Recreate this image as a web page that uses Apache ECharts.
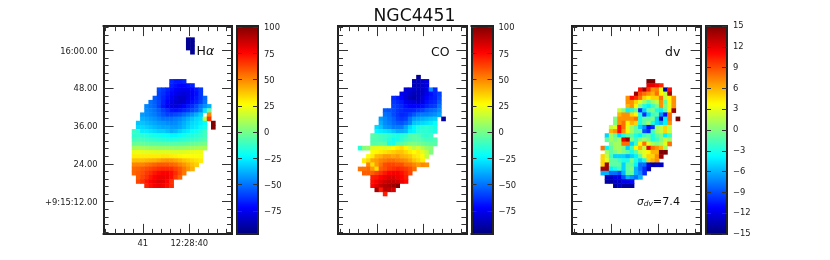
<!DOCTYPE html>
<html><head><meta charset="utf-8">
<style>html,body{margin:0;padding:0;background:#fff}#c{width:830px;height:260px}</style>
<script src="https://cdn.jsdelivr.net/npm/echarts@6/dist/echarts.min.js"></script>
</head><body><div id="c"></div>
<script>
// rows: [row, startCol, values...]  (sky map cells)
const haRows = [
[3,20,-93,-93],[4,20,-93,-93],[5,20,-93,-93],[6,21,-93],
[13,16,-65,-68,-68,-66],
[14,16,-67,-70,-72,-72,-70,-66],
[15,13,-58,-62,-66,-70,-73,-75,-76,-75,-72,-68,-62],
[16,13,-60,-63,-68,-72,-76,-78,-79,-78,-74,-70,-62],
[17,12,-55,-60,-65,-70,-75,-79,-82,-82,-78,-73,-68,-62,-52],
[18,11,-50,-54,-59,-66,-72,-77,-81,-83,-82,-76,-70,-66,-60,-50],
[19,10,-46,-50,-53,-60,-68,-74,-78,-79,-77,-73,-68,-64,-58,-50,-44,-38],
[20,10,-45,-47,-50,-54,-60,-64,-69,-70,-68,-65,-62,-58,-54,-46,-28,-6],
[21,9,-42,-44,-46,-48,-52,-56,-60,-60,-58,-56,-52,-48,-44,-38,-32],[21,25,50],
[22,9,-38,-40,-42,-44,-47,-50,-50,-50,-48,-46,-42,-38,-34,-30,-28,15,66],
[23,8,-34,-34,-36,-38,-40,-42,-43,-45,-46,-45,-42,-38,-34,-30,-28,-25,-22],[23,26,100],
[24,8,-30,-30,-32,-34,-36,-38,-40,-40,-42,-42,-40,-36,-32,-28,-26,-22,-18],[24,26,100],
[25,7,-12,-14,-26,-26,-28,-30,-32,-32,-35,-38,-36,-32,-28,-26,-22,-20,-16,-10],
[26,7,-14,-13,-15,-16,-18,-19,-20,-21,-22,-24,-24,-22,-20,-18,-17,-15,-13,-10],
[27,7,-10,-9,-10,-11,-12,-13,-14,-15,-16,-17,-16,-15,-14,-13,-12,-11,-9,-7],
[28,7,-3,-2,-3,-4,-5,-5,-5,-6,-6,-6,-6,-5,-5,-4,-3,-2,-1,0],
[29,7,9,10,9,8,7,7,6,6,6,6,5,6,6,7,8,9,10,10],
[30,7,22,23,22,21,21,20,20,20,20,19,19,19,20,21,22,23,23],
[31,7,30,30,30,30,30,30,30,31,31,30,29,28,27,27,27,26,25],
[32,7,39,39,39,40,41,42,44,46,47,46,44,41,38,36,34,32,30],
[33,7,50,51,51,53,55,57,59,59,59,57,55,51,47,43,39,36],
[34,7,56,57,59,61,63,65,67,68,68,67,63,59,53,47,42],
[35,7,57,59,61,65,68,72,75,77,77,74,68,61,53],
[36,8,59,63,67,72,76,79,80,79,74,65,57],
[37,8,63,67,72,76,80,82,81,76,67],
[38,10,70,74,78,80,78,74,68]];
const coRows = [
[12,19,-92],
[13,18,-85,-85,-82,-78],
[14,18,-86,-85,-82,-78],
[15,16,-80,-80,-82,-84,-82,-78,-45,-65],
[16,15,-75,-78,-82,-85,-85,-82,-76,-70,-65,-60],
[17,13,-65,-68,-72,-80,-85,-88,-85,-80,-72,-68,-66,-58],
[18,13,-62,-65,-68,-75,-78,-80,-82,-78,-70,-66,-64,-55],
[19,13,-60,-62,-65,-70,-72,-72,-72,-70,-66,-62,-60,-50],
[20,11,-55,-56,-58,-62,-64,-66,-66,-65,-62,-60,-55,-52,-50,-45],
[21,11,-50,-52,-58,-62,-65,-64,-60,-55,-50,-48,-48,-46,-44,-40],
[22,10,-42,-46,-50,-54,-60,-62,-60,-50,-42,-40,-38,-36,-34,-32],[22,25,-90],
[23,10,-38,-45,-48,-52,-55,-56,-52,-46,-34,-32,-30,-28,-26,-22],
[24,9,-30,-34,-42,-44,-48,-48,-48,-40,-30,-24,-18,-16,-14,-16,-18],
[25,9,-24,-26,-28,-30,-34,-38,-38,-36,-26,-24,-16,-14,-14,-16,-18],
[26,8,-6,-8,-10,-12,-14,-16,-18,-16,-14,-8,-6,-8,-12,-14,-12],
[27,8,-8,-8,-10,-12,-16,-20,-18,-14,-10,-8,-6,-6,-8,-10,-10,-8],
[28,8,-6,-6,-4,-6,-18,-18,-8,-6,-2,2,2,0,-2,-4,-6,-6],
[29,5,-15,3,6,20,22,22,20,22,26,30,33,28,20,14,18,12,6,4],
[30,8,26,28,30,32,34,36,38,38,34,30,27,30,21,14,2],
[31,7,27,30,40,42,46,46,44,46,42,40,38,32,30,27,14],
[32,6,30,34,44,46,50,52,54,54,52,50,48,44,38,34,29],
[33,7,50,33,46,54,61,63,63,61,61,55,54,50,46,50,48],
[34,5,54,54,56,46,33,58,61,65,67,69,67,65,61,55],
[35,6,58,58,58,63,67,72,76,78,78,74,69,63],
[36,8,71,72,76,80,83,83,80,76,71],
[37,8,74,78,82,86,88,88,86,80,75],
[38,8,76,82,88,91,93,95,99],
[39,9,93,72,90,88,84],
[40,11,71]];
const dvRows = [
[13,18,15,15],
[14,18,12,12,11,10],
[15,16,11,14,10,7,7.5,3,-14,11],
[16,15,14,9,8,7,6,8,4,2,14],
[17,13,7,11,10,8,5,4,5,5,8,2,4,7],
[18,13,7,7,5,3,1,-1,1,2,7,-1,4,7],
[19,13,6,7,4,0,-3,-4,-2,0,7,0,3,7],
[20,11,2,0,-4,-3,-1,-10,-5,-1,0,-3,-4,-1,4,14],
[21,11,6,7,7,5,4,-3,-10,-5,-2,-1,-7,-11,8],
[22,10,0,7,7,7,7,8,-3,-1,-1,0,-5,-13,-4,8],[22,25,15],
[23,10,0,7,8,4,6,5,-3,-1,1,-3,-5,-6,-4,7],
[24,9,2,3,11,8,3,1,-1,-5,-7,-11,-10,1,2,5,2],
[25,9,6,7,11,7,4,1,-1,-1,-9,-10,-2,1,2,5,2],
[26,8,-5,1,-1,-5,-3,-1,-1,-3,-4,-2,-1,-3,-1,0,-4,-2],
[27,8,-1,1,0,1,12,14,0,-2,0,1,0,-3,-2,0,2,1],
[28,9,0,1,1,8,8,-5,-2,4,8,3,1,0,1,3,8],
[29,7,8,-4,-1,1,1,0,-5,-2,4,6,2,12,8,7,6,1],
[30,8,1,-1,0,1,0,-1,-3,-1,2,3,4,6,6,15,15],
[31,7,5,2,-2,-5,-5,-5,-6,-5,-4,-1,3,5,5,7,14],
[32,7,5,3,-1,-1,-2,-3,-3,0,-3,-5,-3,5,6,7],
[33,7,5,14,-1,-1,-1,-5,-1,-1,-4,-8,-8,-12,-14,-13,-13],
[34,7,14,14,-4,-3,-2,-5,-1,0,-6,-8,-10,-13],
[35,7,-6,-6,-8,-8,-9,-6,-1,-1,-6,-7,-10],
[36,8,-13,-13,-12,-12,-9,-6,-7,-8,-6],
[37,8,-14,-14,-13,-13,-12,-12,-11],
[38,10,-14,-13,-14,-14,-14]];

const raMajor = [40, 41];
const raMinor = [39.2,39.4,39.6,39.8,40.2,40.4,40.6,40.8,41.2,41.4,41.6,41.8];
const decMajor = [12, 24, 36, 48, 60];
const decMinor = [2.4,4.8,7.2,9.6,14.4,16.8,19.2,21.6,26.4,28.8,31.2,33.6,38.4,40.8,43.2,45.6,50.4,52.8,55.2,57.6,62.4,64.8,67.2];
const raLabels = {40:'12:28:40', 41:'41'};
const decLabels = {12:'+9:15:12.00', 24:'24.00', 36:'36.00', 48:'48.00', 60:'16:00.00'};
const velTicks = [-75,-50,-25,0,25,50,75,100];
const dvTicks = [-15,-12,-9,-6,-3,0,3,6,9,12,15];
const jet = ['#00007f','#0000ff','#007fff','#00ffff','#7fff7f','#ffff00','#ff7f00','#ff0000','#7f0000'];

const INK = '#222', FONT = 'DejaVu Sans', LBL = 8.4;
const NC = 31, NR = 50, CELL = 4.17;
const cols = Array.from({length:NC},(_,i)=>i), rows = Array.from({length:NR},(_,i)=>i);
const toCells = rs => rs.flatMap(r => r.slice(2).map((v,i)=>[r[1]+i, r[0], v]));

const grid=[], xAxis=[], yAxis=[], series=[], visualMap=[];
const labelStyle = {fontFamily:FONT,fontSize:LBL,color:INK};
function rect(l,t,w,h){grid.push({left:l,top:t,width:w,height:h,show:false});return grid.length-1;}
function lineOnly(show){return {show,onZero:false,lineStyle:{color:INK,width:2,cap:'square'}};}
function ticks(vals,len,show){return (vals&&show!==false)?{show:true,inside:true,length:len,customValues:vals,lineStyle:{color:'#333',width:1}}:{show:false};}
function addX(g,pos,min,max,inverse,tickVals,len,line,labelFn){
  xAxis.push({gridIndex:g,type:'value',position:pos,min,max,inverse,z:6,silent:true,splitLine:{show:false},
    axisLine:lineOnly(line),axisTick:ticks(tickVals,len),
    axisLabel:labelFn?{show:true,customValues:tickVals,margin:6,formatter:labelFn,...labelStyle}:{show:false}});
}
function addY(g,pos,min,max,tickVals,len,line,labelFn,tickShow){
  yAxis.push({gridIndex:g,type:'value',position:pos,min,max,z:6,silent:true,splitLine:{show:false},
    axisLine:lineOnly(line),axisTick:ticks(tickVals,len,tickShow),
    axisLabel:labelFn?{show:true,customValues:tickVals,margin:6,formatter:labelFn,...labelStyle}:{show:false}});
}
function hiddenX(g){xAxis.push({gridIndex:g,type:'value',min:0,max:1,show:false});}
const FW=128.4, FH=207.8, FT=26.1;
const RA_L=41.841, RA_R=39.084, DEC_B=1.78, DEC_T=67.7;
const minusFix = v=>String(v).replace('-','\u2212');
function panel(x0, frameL, cells, withLabels, cbL, cbW, vmin, vmax, cbTicks, cbShift){
  const hg = rect(x0, 25.1, NC*CELL, NR*CELL);
  xAxis.push({gridIndex:hg,type:'category',data:cols,show:false});
  yAxis.push({gridIndex:hg,type:'category',data:rows,inverse:true,show:false});
  series.push({type:'heatmap',xAxisIndex:xAxis.length-1,yAxisIndex:yAxis.length-1,data:toCells(cells),progressive:0,animation:false,silent:true,z:2});
  const si = series.length-1;
  visualMap.push({type:'continuous',seriesIndex:si,min:vmin,max:vmax,dimension:2,left:cbL,top:FT,itemWidth:cbW,itemHeight:FH,padding:0,
    calculable:false,realtime:false,text:null,showLabel:false,hoverLink:false,inRange:{color:jet},z:4});
  const g1 = rect(frameL,FT,FW,FH);
  addX(g1,'bottom',RA_R,RA_L,true,raMajor,10,true,withLabels?(v=>raLabels[Math.round(v)]||''):null);
  addX(g1,'top',RA_R,RA_L,true,raMajor,10,true,null);
  addY(g1,'left',DEC_B,DEC_T,decMajor,10,true,null);
  addY(g1,'right',DEC_B,DEC_T,decMajor,10,true,null);
  const g2 = rect(frameL,FT,FW,FH);
  addX(g2,'bottom',RA_R,RA_L,true,raMinor,5,false,null);
  addX(g2,'top',RA_R,RA_L,true,raMinor,5,false,null);
  addY(g2,'left',DEC_B,DEC_T,decMinor,5,false,null);
  addY(g2,'right',DEC_B,DEC_T,decMinor,5,false,null);
  const g3 = rect(cbL,FT,cbW,FH);
  addX(g3,'bottom',0,1,false,null,0,true,null);
  addX(g3,'top',0,1,false,null,0,true,null);
  addY(g3,'left',vmin,vmax,cbTicks,5,true,null);
  addY(g3,'right',vmin,vmax,cbTicks,5,true,cbShift?null:minusFix);
  if(withLabels){
    const g4 = rect(frameL,FT+1,FW,FH);
    hiddenX(g4);
    addY(g4,'left',DEC_B,DEC_T,decMajor,0,false,v=>decLabels[Math.round(v)]||'',false);
  }
  if(cbShift){
    const g5 = rect(cbL,FT+1,cbW,FH);
    hiddenX(g5);
    addY(g5,'right',vmin,vmax,cbTicks,0,false,minusFix,false);
  }
}
panel(102.8,103.6,haRows,true,237,21,-97,101,velTicks,true);
panel(337.2,338,coRows,false,471.5,21,-97,101,velTicks,true);
panel(571.6,572.2,dvRows,false,706,21,-15,15,dvTicks,false);

const word=(text,l,t,size)=>({text,left:l,top:t,padding:0,textStyle:{fontFamily:FONT,fontSize:size,fontWeight:'normal',color:'#111'}});
const title=[
  word('NGC4451',373.5,8,17.2),
  {text:'H{a|\u03b1}',left:196.5,top:45,padding:0,textStyle:{fontFamily:FONT,fontSize:12.5,fontWeight:'normal',color:'#111',rich:{a:{fontFamily:FONT,fontStyle:'italic',fontSize:12.5,color:'#111'}}}},
  word('CO',431,46,12.5),
  word('dv',665,46,12.5),
  {text:'{s|\u03c3}{d|dv}{n|=7.4}',left:637,top:197,padding:0,textStyle:{fontFamily:FONT,fontWeight:'normal',color:'#111',rich:{
    s:{fontFamily:FONT,fontStyle:'italic',fontSize:10.5,color:'#111'},
    d:{fontFamily:FONT,fontStyle:'italic',fontSize:7.5,color:'#111',verticalAlign:'bottom',padding:[3,0,0,0]},
    n:{fontFamily:FONT,fontSize:11.2,color:'#111'}}}}
];

const chart=echarts.init(document.getElementById('c'),null,{renderer:'canvas'});
chart.setOption({animation:false,backgroundColor:'#fff',tooltip:{show:false},title,grid,xAxis,yAxis,visualMap,series});
</script></body></html>
